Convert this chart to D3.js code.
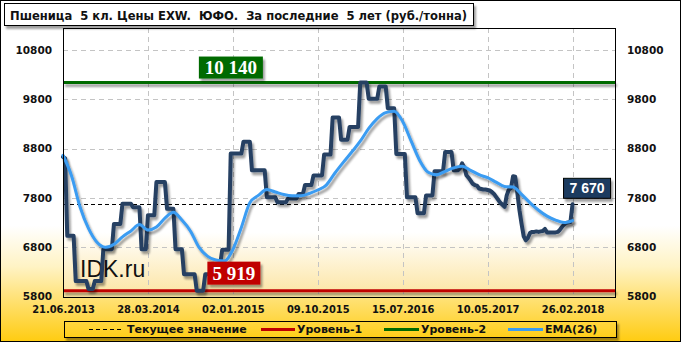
<!DOCTYPE html>
<html><head><meta charset="utf-8">
<script src="https://cdn.jsdelivr.net/npm/d3@7"></script>
<style>
html,body{margin:0;padding:0;background:#fff;}
svg{display:block;}
text{font-family:"DejaVu Sans Condensed","DejaVu Sans",sans-serif;font-weight:bold;}
</style></head><body>
<svg id="chart" width="681" height="342"></svg>
<script>
// ---------------- DATA ----------------
const titleText = "Пшеница  5 кл. Цены EXW.  ЮФО.  За последние  5 лет (руб./тонна)";
const xTickLabels = ["21.06.2013","28.03.2014","02.01.2015","09.10.2015","15.07.2016","10.05.2017","26.02.2018"];
const xTickEvery = 40;          // one label every 40 weekly points
const xCategoryCount = 260;     // width of the category axis
const yTicks = [5800, 6800, 7800, 8800, 9800, 10800];

// weekly price, rub/t
const price = [
8630,8600,
7030,7030,7030,7030,
6113,6113,6113,6113,6113,6113,
5950,5950,5950,
6113,6113,6113,6113,
6760,6760,6760,6760,6760,
7270,7270,7270,7270,
7680,7680,7680,7680,7680,
7610,7610,7610,7610,
6760,6760,6760,
7450,7450,7450,7450,
8120,8120,8120,8120,8120,
7580,7580,7580,7580,
6760,6760,6760,6760,
6250,6250,6250,6250,6250,6250,
5919,5919,5919,5919,
6250,6250,6250,6250,
6450,6450,6450,6450,
6750,6750,6750,6750,
8700,8700,8700,8700,8700,8700,
8940,8940,8940,8940,
8360,8360,8360,8360,8360,8360,8360,
7814,7814,7814,7814,7814,
7710,7710,7710,7710,7710,
7790,7790,7790,7790,7790,
7880,7880,7880,
8060,8060,8060,8060,
8256,8256,8256,8256,8256,
8680,8680,8680,8680,
9430,9430,9430,9430,
8980,8980,8980,8980,
9240,9240,9240,9240,9240,
10140,10140,10140,10140,
9810,9810,9810,9810,9810,
10060,10060,10060,10060,
9616,9616,9616,9616,
8690,8690,8690,8690,8690,
7814,7814,7814,7814,7814,
7490,7490,7490,7490,
7850,7850,7850,7850,
8340,8340,8340,8340,8340,
8730,8730,8730,8730,
8360,8360,8360,
8400,8500,8420,8260,8210,8150,8086,8060,8050,7990,
7980,7970,7970,7960,7950,7920,7880,7820,7760,7700,
7660,7620,7850,7970,8000,8240,8230,7900,7550,7270,
7020,6940,6990,7090,7110,7110,7120,7110,7120,7130,
7170,7100,7100,7100,7100,7100,7110,7150,7210,7260,
7290,7300,7310,7670
];

// EMA(26), read every 4th week
const emaStep = 4;
const ema = [
8665,8250,7620,7180,6900,6800,6860,7010,7130,7260,
7150,7210,7390,7510,7350,7130,6800,6620,6540,6520,
6750,7200,7700,7850,7970,7920,7870,7845,7845,7890,
7960,8060,8300,8520,8730,8950,9210,9410,9530,9560,
9350,8950,8560,8320,8270,8340,8410,8440,8360,8270,
8210,8120,8030,8020,7870,7700,7550,7430,7350,7300,
7340
];

const level1 = 5919;
const level2 = 10140;
const currentValue = 7670;
const level1Label = "5 919";
const level2Label = "10 140";
const currentLabel = "7 670";
const legendLabels = ["Текущее значение", "Уровень-1", "Уровень-2", "EMA(26)"];

// ---------------- STYLE ----------------
const C = {
  price: "#253F62", ema: "#3A9CF2", red: "#C00000", green: "#006A00",
  grid: "#c4c4c4", navy: "#1B3A5E"
};

const W = 681, H = 342;
const plot = {l: 63, r: 615, t: 28, b: 297};

const svg = d3.select("#chart");
const defs = svg.append("defs");

const bg = defs.append("linearGradient").attr("id","bgGrad")
  .attr("gradientUnits","userSpaceOnUse").attr("x1",0).attr("y1",0).attr("x2",0).attr("y2",H);
[[0,"#ffffff"],[0.66,"#ffffff"],[0.78,"#fff3c4"],[0.88,"#ffe070"],[1,"#ffcc10"]]
  .forEach(s => bg.append("stop").attr("offset",s[0]).attr("stop-color",s[1]));

const pg = defs.append("linearGradient").attr("id","plotGrad")
  .attr("gradientUnits","userSpaceOnUse").attr("x1",0).attr("y1",plot.t).attr("x2",0).attr("y2",plot.b);
[[0,"#ffffff"],[0.76,"#ffffff"],[1,"#fce4a0"]]
  .forEach(s => pg.append("stop").attr("offset",s[0]).attr("stop-color",s[1]));

const f = defs.append("filter").attr("id","sh").attr("filterUnits","userSpaceOnUse")
  .attr("x",0).attr("y",0).attr("width",W).attr("height",H);
f.append("feGaussianBlur").attr("in","SourceAlpha").attr("stdDeviation",1.3);
f.append("feOffset").attr("dx",2).attr("dy",3);
f.append("feComponentTransfer").append("feFuncA").attr("type","linear").attr("slope",0.38);
const fm = f.append("feMerge");
fm.append("feMergeNode"); fm.append("feMergeNode").attr("in","SourceGraphic");

// background
svg.append("rect").attr("x",0).attr("y",0).attr("width",W).attr("height",H).attr("fill","url(#bgGrad)");

// scales
const x = d3.scaleLinear().domain([0, xCategoryCount]).range([plot.l, plot.r]);
const y = d3.scaleLinear().domain([5800, 10800]).range([296.5, 50]);

// plot area
svg.append("rect").attr("x",plot.l).attr("y",plot.t).attr("width",plot.r-plot.l).attr("height",plot.b-plot.t)
  .attr("fill","url(#plotGrad)");

// gridlines
const gy = svg.append("g");
yTicks.filter(v => v > 5800).forEach(v => {
  gy.append("line").attr("x1",plot.l).attr("x2",plot.r)
    .attr("y1",Math.round(y(v))+0.5).attr("y2",Math.round(y(v))+0.5)
    .attr("stroke",C.grid).attr("stroke-dasharray","5,4");
});
const xTickIdx = xTickLabels.map((d,i) => i * xTickEvery);
xTickIdx.filter(v => v > 0).forEach(v => {
  gy.append("line").attr("y1",plot.t).attr("y2",plot.b)
    .attr("x1",Math.round(x(v))+0.5).attr("x2",Math.round(x(v))+0.5)
    .attr("stroke",C.grid).attr("stroke-dasharray","5,4");
});

// level lines
svg.append("line").attr("x1",plot.l).attr("x2",plot.r).attr("y1",y(level2)).attr("y2",y(level2))
  .attr("stroke",C.green).attr("stroke-width",3).attr("filter","url(#sh)");
svg.append("line").attr("x1",plot.l).attr("x2",plot.r).attr("y1",y(level1)).attr("y2",y(level1))
  .attr("stroke",C.red).attr("stroke-width",3).attr("filter","url(#sh)");
svg.append("line").attr("x1",plot.l).attr("x2",plot.r)
  .attr("y1",Math.round(y(currentValue))+0.5).attr("y2",Math.round(y(currentValue))+0.5)
  .attr("stroke","#000").attr("stroke-width",1).attr("stroke-dasharray","4,3");

// IDK.ru mark
svg.append("text").attr("x",80).attr("y",277).text("IDK.ru")
  .style("font-family","'Liberation Sans',Arial,sans-serif").style("font-weight","normal")
  .style("font-size","23px").attr("fill","#111");

// price line
const line = d3.line().x((d,i) => x(i)).y(d => y(d));
svg.append("path").datum(price).attr("d",line).attr("fill","none")
  .attr("stroke",C.price).attr("stroke-width",4).attr("stroke-linejoin","round").attr("stroke-linecap","round")
  .attr("filter","url(#sh)");

// EMA line
const emaLine = d3.line().x((d,i) => x(i*emaStep)).y(d => y(d)).curve(d3.curveMonotoneX);
svg.append("path").datum(ema).attr("d",emaLine).attr("fill","none")
  .attr("stroke",C.ema).attr("stroke-width",3).attr("stroke-linejoin","round").attr("stroke-linecap","round")
  .attr("filter","url(#sh)");

// plot border
svg.append("rect").attr("x",plot.l+0.5).attr("y",plot.t+0.5).attr("width",plot.r-plot.l).attr("height",plot.b-plot.t)
  .attr("fill","none").attr("stroke","#000");

// axes
const axL = svg.append("g").attr("transform",`translate(${plot.l},0)`)
  .call(d3.axisLeft(y).tickValues(yTicks).tickSize(0).tickPadding(11).tickFormat(d3.format("d")));
const axR = svg.append("g").attr("transform",`translate(${plot.r},0)`)
  .call(d3.axisRight(y).tickValues(yTicks).tickSize(0).tickPadding(12).tickFormat(d3.format("d")));
const axB = svg.append("g").attr("transform",`translate(0,${plot.b})`)
  .call(d3.axisBottom(x).tickValues(xTickIdx).tickSize(0).tickPadding(8).tickFormat((d,i) => xTickLabels[i]));
[axL,axR].forEach(a => {
  a.select(".domain").remove();
  a.selectAll("text").style("font-size","10.5px").style("font-weight","bold")
    .style("font-family","'DejaVu Sans',sans-serif").attr("fill","#111");
});
axB.select(".domain").remove();
axB.selectAll("text").style("font-size","11px").style("font-weight","bold")
  .style("font-family","'DejaVu Sans Condensed','DejaVu Sans',sans-serif").attr("fill","#111");

// value labels
function valueBox(cx0, y0, w, h, fill, txt, font, size, stroke) {
  const g = svg.append("g");
  g.append("rect").attr("x",cx0).attr("y",y0).attr("width",w).attr("height",h)
    .attr("fill",fill).attr("stroke",stroke || "none").attr("filter","url(#sh)");
  g.append("text").attr("x",cx0 + w/2).attr("y",y0 + h/2).attr("dy","0.36em")
    .attr("text-anchor","middle").attr("fill","#fff")
    .style("font-family",font).style("font-size",size).style("font-weight","bold").text(txt);
}
valueBox(x(64), y(level2)-26, 64, 22, C.green, level2Label, "'Liberation Serif','Times New Roman',serif", "19px");
valueBox(x(68), y(level1)-29, 53, 23, C.red, level1Label, "'Liberation Serif','Times New Roman',serif", "19px");
valueBox(x(price.length-1)-9, y(currentValue)-26, 47, 20, C.navy, currentLabel, "'Liberation Sans',Arial,sans-serif", "14px", "#000");

// title
svg.append("rect").attr("x",4.5).attr("y",3.5).attr("width",469).attr("height",22)
  .attr("fill","#fff").attr("stroke","#000").attr("filter","url(#sh)");
const tt = svg.append("text").attr("x",10).attr("y",19.5).style("white-space","pre")
  .style("font-size","12px").attr("fill","#111").text(titleText);
tt.attr("textLength",457).attr("lengthAdjust","spacingAndGlyphs");

// legend
const lg = svg.append("g");
lg.append("rect").attr("x",64.5).attr("y",321.5).attr("width",552).attr("height",16)
  .attr("fill","url(#bgGrad)").attr("stroke","#000").attr("filter","url(#sh)");
const ly = 329.5;
const legendDefs = [
  {x1:89, x2:122, tx:127, color:"#000", w:1, dash:"4,3"},
  {x1:261, x2:295, tx:297, color:C.red, w:3},
  {x1:384, x2:419, tx:421, color:C.green, w:3},
  {x1:508, x2:543, tx:545, color:C.ema, w:3}
];
legendDefs.forEach((d,i) => {
  lg.append("line").attr("x1",d.x1).attr("x2",d.x2).attr("y1",ly).attr("y2",ly)
    .attr("stroke",d.color).attr("stroke-width",d.w).attr("stroke-dasharray",d.dash || null);
  lg.append("text").attr("x",d.tx).attr("y",ly).attr("dy","0.36em")
    .style("font-family","'DejaVu Sans',sans-serif")
    .style("font-size","11px").attr("fill","#111").text(legendLabels[i]);
});

// outer border
svg.append("rect").attr("x",0.5).attr("y",0.5).attr("width",W-1).attr("height",H-1)
  .attr("fill","none").attr("stroke","#000");
</script>
</body></html>
